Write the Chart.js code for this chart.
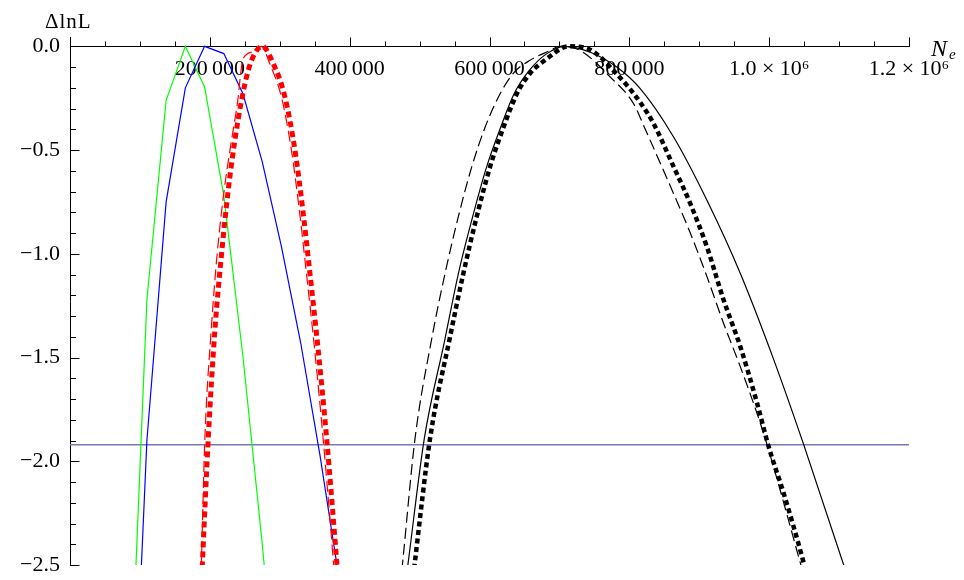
<!DOCTYPE html>
<html>
<head>
<meta charset="utf-8">
<script src="https://cdn.jsdelivr.net/npm/chart.js@4.4.1/dist/chart.umd.min.js"></script>
<style>
  html, body { margin: 0; padding: 0; background: #fff; }
  #wrap { width: 964px; height: 580px; }
</style>
</head>
<body>
<div id="wrap"><canvas id="lnL" width="964" height="580"></canvas></div>
<script>
// ---- data (N_e, Delta lnL) ----
const greenN = [82500, 110000, 137500, 165000, 192500, 220000, 247500, 275000, 302500];
const greenL = [-3.47, -1.22, -0.26, 0, -0.196, -0.72, -1.50, -2.40, -3.40];

const blueN = [82500, 110000, 137500, 165000, 192500, 220000, 247500, 275000, 302500, 330000, 357500, 385000, 412500];
const blueL = [-4.0, -1.90, -0.75, -0.20, 0, -0.035, -0.23, -0.557, -0.967, -1.43, -1.97, -2.57, -3.2];

const redDotN = [185000, 189500, 197600, 207200, 216800, 226300, 235800, 245400, 254900, 265000, 275000, 290700, 307400, 321700, 333600, 343200, 355000, 367100, 381400, 386000];
const redDotL = [-2.80, -2.48, -1.90, -1.37, -1.00, -0.694, -0.453, -0.26, -0.116, -0.03, 0, -0.083, -0.244, -0.50, -0.806, -1.095, -1.464, -1.89, -2.48, -2.68];

const redDashN = [184000, 188000, 192800, 201900, 210500, 220500, 231000, 240000, 244500, 247700, 262000, 274000, 285600, 302400, 316700, 328600, 338200, 350000, 362000, 376600, 381000];
const redDashL = [-2.90, -2.48, -1.90, -1.37, -1.00, -0.694, -0.453, -0.26, -0.12, -0.06, -0.025, 0, -0.083, -0.244, -0.50, -0.806, -1.095, -1.464, -1.89, -2.48, -2.68];

const blackSolidN = [476000, 484000, 506800, 536000, 555500, 576000, 596000, 616000, 635000, 656000, 680000, 708000, 745000, 782000, 815600, 863300, 911000, 958800, 1006500, 1049400, 1106600, 1115000];
const blackSolidL = [-2.69, -2.48, -1.89, -1.416, -1.095, -0.82, -0.58, -0.39, -0.23, -0.12, -0.04, 0, -0.03, -0.10, -0.204, -0.437, -0.742, -1.095, -1.51, -1.92, -2.50, -2.59];

const blackDotN = [488000, 493500, 515000, 543600, 562600, 581800, 600900, 620000, 639000, 658000, 682000, 705800, 713000, 739000, 758000, 777000, 796600, 815600, 834600, 863300, 887200, 911000, 934900, 958800, 982700, 999300, 1020800, 1049400, 1056000];
const blackDotL = [-2.64, -2.48, -1.89, -1.40, -1.095, -0.82, -0.58, -0.39, -0.23, -0.13, -0.06, -0.005, 0, -0.01, -0.05, -0.116, -0.188, -0.27, -0.372, -0.58, -0.758, -0.967, -1.223, -1.448, -1.72, -1.93, -2.155, -2.49, -2.58];

const blackDashN = [470000, 476000, 493500, 517000, 536400, 555500, 574700, 593700, 615000, 634000, 658000, 686800, 700000, 729700, 772700, 806000, 822800, 863300, 887200, 911000, 934900, 958800, 982700, 997000, 1044600, 1052000];
const blackDashL = [-2.68, -2.48, -1.89, -1.416, -1.095, -0.82, -0.58, -0.39, -0.23, -0.13, -0.067, -0.02, 0, -0.02, -0.148, -0.276, -0.40, -0.71, -0.90, -1.11, -1.336, -1.545, -1.77, -1.92, -2.49, -2.58];

// 95% cut: Delta lnL = -1.92
const cutN = [0, 1200000];
const cutL = [-1.92, -1.92];

// axes
const xTickValues = [200000, 400000, 600000, 800000, 1000000, 1200000];
const xTickLabels = ['200\u2009000', '400\u2009000', '600\u2009000', '800\u2009000', '1.0 \u00d7 10\u2076', '1.2 \u00d7 10\u2076'];
const yTickValues = [0, -0.5, -1.0, -1.5, -2.0, -2.5];
const yTickLabels = ['0.0', '\u22120.5', '\u22121.0', '\u22121.5', '\u22122.0', '\u22122.5'];

const pts = (xs, ys) => xs.map((v, i) => ({ x: v, y: ys[i] }));

Chart.defaults.font.family = '"Liberation Serif", "Times New Roman", serif';
Chart.defaults.color = '#000';

// small ticks + axis names (ticks point into the plot, like the original)
const axisDecor = {
  id: 'axisDecor',
  afterDraw(chart) {
    const { ctx, chartArea, scales: { x, y } } = chart;
    const y0 = Math.round(y.getPixelForValue(0)) + 0.5;
    const x0 = Math.round(x.getPixelForValue(0)) + 0.5;
    ctx.save();
    ctx.strokeStyle = '#000';
    ctx.lineWidth = 1;
    ctx.beginPath();
    for (let v = 50000; v <= 1200000; v += 50000) {
      const px = Math.round(x.getPixelForValue(v)) + 0.5;
      const len = v % 200000 === 0 ? 9 : 5;
      ctx.moveTo(px, y0);
      ctx.lineTo(px, y0 - len);
    }
    for (let k = 0; k <= 25; k++) {
      const py = Math.round(y.getPixelForValue(-k / 10)) + 0.5;
      const len = k % 5 === 0 ? 9 : 5.5;
      ctx.moveTo(x0, py);
      ctx.lineTo(x0 + len, py);
    }
    ctx.stroke();

    ctx.fillStyle = '#000';
    ctx.textAlign = 'left';
    ctx.textBaseline = 'alphabetic';
    ctx.font = '21px "Liberation Serif"';
    ctx.letterSpacing = '1px';
    ctx.fillText('\u0394lnL', 45, 28);
    ctx.letterSpacing = '0px';
    ctx.font = 'italic 24px "Liberation Serif"';
    ctx.fillText('N', chartArea.right + 22, y0 + 9);
    ctx.font = 'italic 15px "Liberation Serif"';
    ctx.fillText('e', chartArea.right + 40, y0 + 12);
    ctx.restore();
  }
};

new Chart(document.getElementById('lnL').getContext('2d'), {
  type: 'line',
  data: {
    datasets: [
      { label: 'black dotted', data: pts(blackDotN, blackDotL), borderColor: '#000', borderWidth: 4.5, borderDash: [5, 3.5], cubicInterpolationMode: 'monotone' },
      { label: 'red dotted', data: pts(redDotN, redDotL), borderColor: '#ff0000', borderWidth: 5, borderDash: [6, 4], cubicInterpolationMode: 'monotone' },
      { label: 'black solid', data: pts(blackSolidN, blackSolidL), borderColor: '#000', borderWidth: 1.2, cubicInterpolationMode: 'monotone' },
      { label: 'black dashed', data: pts(blackDashN, blackDashL), borderColor: '#000', borderWidth: 1.2, borderDash: [11, 5], cubicInterpolationMode: 'monotone' },
      { label: 'red dashed', data: pts(redDashN, redDashL), borderColor: '#ff0000', borderWidth: 1.2, borderDash: [11, 5], cubicInterpolationMode: 'monotone' },
      { label: 'blue', data: pts(blueN, blueL), borderColor: '#0000ff', borderWidth: 1.2, tension: 0 },
      { label: 'green', data: pts(greenN, greenL), borderColor: '#00ff00', borderWidth: 1.2, tension: 0 },
      { label: 'cut', data: pts(cutN, cutL), borderColor: '#7878b8', borderWidth: 1.5, tension: 0 }
    ]
  },
  options: {
    responsive: false,
    animation: false,
    devicePixelRatio: 1,
    layout: { padding: { left: 0, top: 37, right: 55, bottom: 15 } },
    elements: { point: { radius: 0, hoverRadius: 0 }, line: { fill: false } },
    plugins: { legend: { display: false }, tooltip: { enabled: false } },
    scales: {
      x: {
        type: 'linear',
        position: { y: 0 },
        min: 0,
        max: 1200000,
        afterFit: s => { s.paddingLeft = 0; s.paddingRight = 0; },
        afterBuildTicks: s => { s.ticks = xTickValues.map(v => ({ value: v })); },
        ticks: {
          autoSkip: false,
          maxRotation: 0,
          padding: 10,
          font: { size: 22 },
          callback: (v, i) => xTickLabels[i]
        },
        grid: { display: true, drawOnChartArea: false, drawTicks: false, color: 'rgba(0,0,0,0)' },
        border: { display: true, color: '#000', width: 1 }
      },
      y: {
        type: 'linear',
        position: 'left',
        min: -2.5,
        max: 0.045,
        afterFit: s => { s.width = 70; s.paddingTop = 0; s.paddingBottom = 0; },
        afterBuildTicks: s => { s.ticks = yTickValues.map(v => ({ value: v })); },
        ticks: {
          autoSkip: false,
          padding: 10,
          font: { size: 22 },
          callback: (v, i) => yTickLabels[i]
        },
        grid: { display: true, drawOnChartArea: false, drawTicks: false, color: 'rgba(0,0,0,0)' },
        border: { display: true, color: '#000', width: 1 }
      }
    }
  },
  plugins: [axisDecor]
});
</script>
</body>
</html>
